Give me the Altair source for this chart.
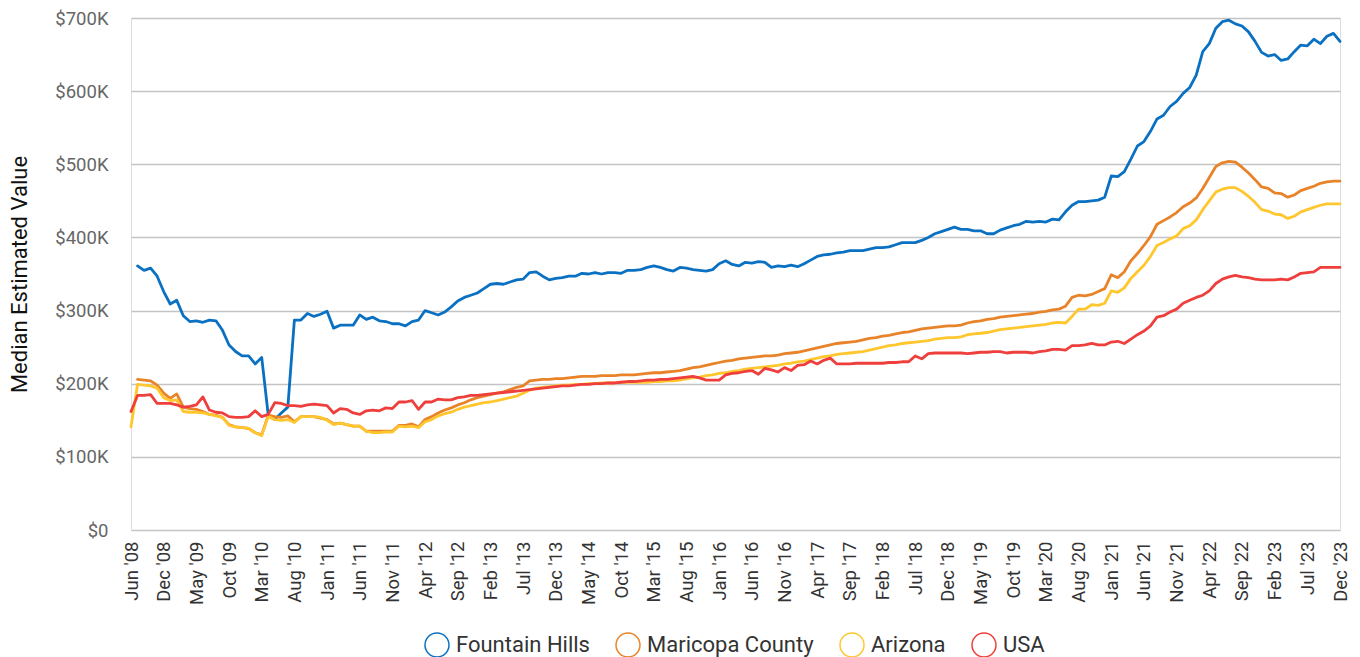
import json
import altair as alt
import pandas as pd

# ---- data (values in $K, one point per period, index 0 = first period) ----
tick_labels = ["Jun '08", "Dec '08", "May '09", "Oct '09", "Mar '10", "Aug '10", "Jan '11",
               "Jun '11", "Nov '11", "Apr '12", "Sep '12", "Feb '13", "Jul '13", "Dec '13",
               "May '14", "Oct '14", "Mar '15", "Aug '15", "Jan '16", "Jun '16", "Nov '16",
               "Apr '17", "Sep '17", "Feb '18", "Jul '18", "Dec '18", "May '19", "Oct '19",
               "Mar '20", "Aug '20", "Jan '21", "Jun '21", "Nov '21", "Apr '22", "Sep '22",
               "Feb '23", "Jul '23", "Dec '23"]

fountain_hills = [
    None, 361, 355, 358, 347, 326, 309, 314, 293, 285,
    286, 284, 287, 286, 273, 253, 244, 238, 238, 227,
    236, 157, 151, 160, 168, 287, 287, 296, 292, 295,
    299, 276, 280, 280, 280, 294, 288, 291, 286, 285,
    282, 282, 279, 285, 287, 300, 297, 294, 298, 305,
    313, 318, 321, 324, 330, 336, 337, 336, 339, 342,
    343, 352, 353, 347, 342, 344, 345, 347, 347, 351,
    350, 352, 350, 352, 352, 351, 355, 355, 356, 359,
    361, 359, 356, 354, 359, 358, 356, 355, 354, 356,
    364, 368, 363, 361, 366, 365, 367, 366, 359, 361,
    360, 362, 360, 364, 369, 374, 376, 377, 379, 380,
    382, 382, 382, 384, 386, 386, 387, 390, 393, 393,
    393, 396, 400, 405, 408, 411, 414, 411, 411, 409,
    409, 405, 405, 410, 413, 416, 418, 422, 421, 422,
    421, 425, 424, 435, 444, 449, 449, 450, 451, 455,
    484, 483, 490, 507, 525, 531, 545, 562, 567, 579,
    586, 597, 605, 622, 654, 665, 686, 695, 697, 692,
    689, 681, 668, 653, 648, 650, 642, 644, 654, 663,
    662, 671, 665, 675, 679, 668]

maricopa = [
    None, 206, 205, 204, 198, 187, 180, 186, 168, 166,
    165, 162, 158, 157, 154, 144, 141, 140, 139, 133,
    130, 157, 155, 154, 156, 148, 155, 155, 155, 153,
    151, 145, 146, 144, 142, 142, 135, 135, 135, 135,
    135, 143, 143, 145, 141, 151, 155, 160, 164, 167,
    171, 174, 178, 181, 183, 185, 187, 189, 192, 195,
    197, 204, 205, 206, 206, 207, 207, 208, 209, 210,
    210, 210, 211, 211, 211, 212, 212, 212, 213, 214,
    215, 215, 216, 217, 218, 220, 222, 223, 225, 227,
    229, 231, 232, 234, 235, 236, 237, 238, 238, 239,
    241, 242, 243, 245, 247, 249, 251, 253, 255, 256,
    257, 258, 260, 262, 263, 265, 266, 268, 270, 271,
    273, 275, 276, 277, 278, 279, 279, 280, 283, 285,
    286, 288, 289, 291, 292, 293, 294, 295, 296, 298,
    299, 301, 302, 306, 318, 321, 320, 322, 326, 330,
    349, 345, 353, 368, 378, 389, 401, 418, 423, 428,
    434, 442, 447, 454, 467, 482, 497, 502, 504, 503,
    496, 488, 479, 469, 467, 461, 460, 455, 458, 464,
    467, 470, 474, 476, 477, 477]

arizona = [
    141, 199, 198, 197, 194, 181, 177, 178, 162, 161,
    161, 160, 158, 156, 154, 143, 141, 140, 139, 133,
    129, 155, 151, 150, 151, 147, 155, 155, 155, 154,
    150, 144, 146, 144, 142, 142, 135, 133, 133, 134,
    134, 142, 141, 142, 140, 148, 151, 156, 159, 161,
    165, 168, 170, 172, 174, 175, 177, 179, 181, 183,
    187, 191, 194, 195, 196, 197, 198, 198, 199, 199,
    200, 200, 201, 201, 201, 202, 202, 202, 202, 202,
    203, 203, 204, 204, 205, 207, 208, 209, 211, 212,
    214, 215, 217, 218, 220, 221, 222, 223, 224, 225,
    227, 228, 230, 231, 233, 235, 237, 238, 240, 241,
    242, 243, 244, 246, 248, 250, 252, 253, 255, 256,
    257, 258, 259, 261, 262, 263, 263, 264, 267, 268,
    269, 270, 272, 274, 275, 276, 277, 278, 279, 280,
    281, 283, 284, 283, 292, 302, 302, 308, 307, 310,
    327, 325, 331, 344, 353, 362, 374, 389, 393, 398,
    402, 412, 416, 424, 438, 450, 462, 466, 468, 468,
    463, 456, 448, 438, 436, 432, 431, 426, 429, 435,
    438, 441, 444, 446, 446, 446]

usa = [
    162, 184, 184, 185, 173, 173, 173, 171, 168, 169,
    171, 182, 164, 161, 160, 155, 154, 154, 155, 163,
    155, 158, 174, 173, 170, 170, 169, 171, 172, 171,
    170, 160, 166, 165, 160, 158, 163, 164, 163, 167,
    166, 175, 175, 177, 165, 175, 175, 179, 178, 178,
    181, 182, 184, 184, 185, 186, 187, 188, 189, 190,
    191, 192, 193, 194, 195, 196, 197, 197, 198, 199,
    199, 200, 200, 201, 201, 202, 203, 203, 204, 205,
    205, 206, 206, 207, 208, 209, 210, 208, 205, 205,
    205, 212, 214, 215, 217, 218, 213, 221, 219, 216,
    222, 218, 225, 226, 231, 227, 232, 235, 227, 227,
    227, 228, 228, 228, 228, 228, 229, 229, 230, 230,
    238, 234, 241, 242, 242, 242, 242, 242, 241, 242,
    243, 243, 244, 244, 242, 243, 243, 243, 242, 244,
    245, 247, 247, 246, 252, 252, 253, 255, 253, 253,
    257, 258, 255, 261, 267, 272, 279, 291, 293, 298,
    302, 310, 314, 318, 321, 327, 337, 343, 346, 348,
    346, 345, 343, 342, 342, 342, 343, 342, 346, 351,
    352, 353, 359, 359, 359, 359]

series_names = ["Fountain Hills", "Maricopa County", "Arizona", "USA"]
series_colors = ["#0a70c2", "#e8832a", "#ffc62e", "#ee3f3c"]
y_ticks = [0, 100000, 200000, 300000, 400000, 500000, 600000, 700000]

rows = []
for name, vals in zip(series_names, [fountain_hills, maricopa, arizona, usa]):
    for i, v in enumerate(vals):
        if v is not None:
            rows.append({"idx": i, "series": name, "value": v * 1000})
df = pd.DataFrame(rows)

n_points = len(usa)
x_label_expr = json.dumps(tick_labels) + "[round(datum.value / 5)]"

chart = alt.Chart(df).mark_line(strokeWidth=2.8, strokeJoin="round", strokeCap="round").encode(
    x=alt.X("idx:Q",
            scale=alt.Scale(domain=[0, n_points - 1], nice=False, zero=False),
            axis=alt.Axis(values=list(range(0, n_points, 5)), labelExpr=x_label_expr,
                          labelAngle=-90, labelFontSize=18.5, labelColor="#333333",
                          labelFont="Roboto", ticks=False, domain=False, grid=False,
                          labelPadding=11, labelOverlap=False, labelBound=False,
                          labelFlush=False, title=None)),
    y=alt.Y("value:Q",
            scale=alt.Scale(domain=[0, 700000], nice=False),
            axis=alt.Axis(values=y_ticks,
                          labelExpr="datum.value == 0 ? '$0' : '$' + format(datum.value / 1000, 'd') + 'K'",
                          labelFontSize=18.5, labelColor="#666666", labelFont="Roboto",
                          ticks=False, domain=False, gridColor="#c4c4c4", gridWidth=1.5,
                          labelPadding=23, title="Median Estimated Value",
                          titleFont="Roboto", titleFontSize=22, titleFontWeight="normal",
                          titleColor="#111111", titleAngle=-90, titleX=-105, titleY=256,
                          titleBaseline="alphabetic", titleAlign="center")),
    color=alt.Color("series:N",
                    scale=alt.Scale(domain=series_names, range=series_colors),
                    sort=series_names,
                    legend=alt.Legend(orient="none", legendX=293, legendY=614,
                                      direction="horizontal", title=None, padding=0,
                                      symbolType="circle", symbolSize=576,
                                      symbolStrokeWidth=1.5, symbolFillColor="transparent",
                                      labelFontSize=22, labelColor="#333333", labelFont="Roboto",
                                      labelLimit=0, columnPadding=23, labelOffset=6)),
).properties(
    width=1209,
    height=512,
    autosize=alt.AutoSizeParams(type="none"),
    padding={"left": 123, "top": 10, "right": 10, "bottom": 137},
).configure_view(stroke=None).configure(font="Roboto")

chart.save("out.html", embed_options={"renderer": "svg", "actions": False})
